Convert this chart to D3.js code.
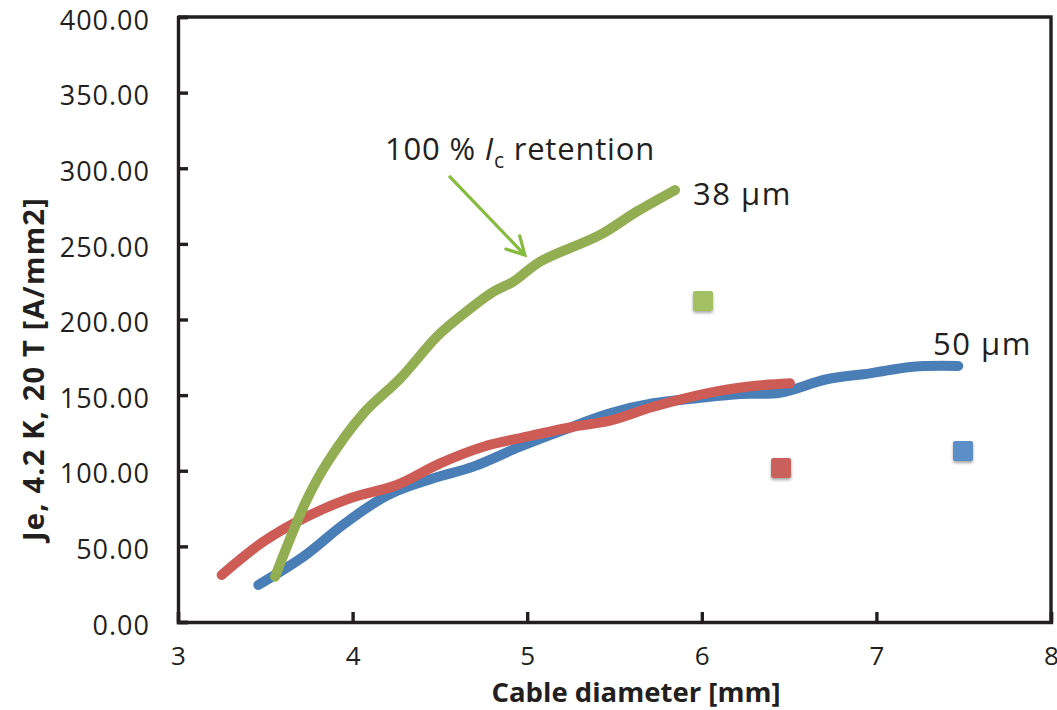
<!DOCTYPE html>
<html>
<head>
<meta charset="utf-8">
<script src="https://cdn.jsdelivr.net/npm/d3@7"></script>
<style>
  html, body { margin: 0; padding: 0; background: #ffffff; }
  svg { display: block; }
  text { font-family: "Open Sans", "Noto Sans", sans-serif; fill: #231f20; }
</style>
</head>
<body>
<svg id="chart" width="1057" height="710"></svg>
<script>
// Engineering current density vs. cable diameter
const xTicks = [3, 4, 5, 6, 7, 8];
const yTicks = [0, 50, 100, 150, 200, 250, 300, 350, 400];

// 38 µm filaments, 100 % Ic retention (green)
const green38X = [3.556, 3.737, 3.852, 4.061, 4.271, 4.482, 4.615, 4.806, 4.920, 5.073, 5.417, 5.627, 5.847];
const green38Y = [30.0, 80.7, 104.9, 137.8, 160.8, 188.6, 201.9, 218.4, 225.0, 238.2, 255.9, 271.3, 285.6];

// red series
const redX = [3.250, 3.489, 3.737, 3.985, 4.253, 4.501, 4.749, 4.997, 5.264, 5.474, 5.722, 6.028, 6.295, 6.505];
const redY = [31.1, 53.1, 69.6, 81.8, 90.6, 104.9, 115.9, 122.5, 129.1, 133.1, 142.3, 151.2, 156.0, 157.8];

// 50 µm filaments (blue)
const blue50X = [3.460, 3.718, 3.957, 4.203, 4.462, 4.691, 4.959, 5.207, 5.474, 5.722, 5.971, 6.219, 6.448, 6.715, 6.963, 7.211, 7.469];
const blue50Y = [24.5, 43.2, 65.3, 84.0, 95.0, 102.7, 115.9, 126.9, 138.0, 144.6, 147.9, 150.7, 151.6, 160.5, 164.4, 168.8, 169.3];

// single measured points
const pointX = [6.007, 6.454, 7.496];
const pointY = [212.2, 101.8, 113.1];
const pointColor = ["#a3c163", "#c9615b", "#5b8fc8"];

const svg = d3.select("#chart");
const plotLeft = 178, plotRight = 1051, plotTop = 17, plotBottom = 622;

const x = d3.scaleLinear().domain([3, 8]).range([plotLeft, plotRight]);
const y = d3.scaleLinear().domain([0, 400]).range([plotBottom, plotTop]);

const ink = "#231f20";

const defs = svg.append("defs");
const shadow = defs.append("filter").attr("id", "soft").attr("x", "-50%").attr("y", "-50%").attr("width", "200%").attr("height", "200%");
shadow.append("feDropShadow").attr("dx", 0).attr("dy", 2).attr("stdDeviation", 1.6)
  .attr("flood-color", "#000").attr("flood-opacity", 0.35);

// frame (top and right edges)
svg.append("path")
  .attr("d", `M${plotLeft},${plotTop}H${plotRight}V${plotBottom}`)
  .attr("fill", "none").attr("stroke", ink).attr("stroke-width", 3.4);

// y axis with inward ticks
const yAxis = d3.axisLeft(y).tickValues(yTicks).tickSize(-10).tickPadding(28)
  .tickFormat(d3.format(".2f"));
const gy = svg.append("g").attr("transform", `translate(${plotLeft},0)`).call(yAxis);
gy.select(".domain").attr("stroke", ink).attr("stroke-width", 3.4);
gy.selectAll(".tick line").attr("stroke", ink).attr("stroke-width", 3.4);
gy.selectAll(".tick text").attr("font-size", 27).attr("font-family", "Open Sans")
  .attr("letter-spacing", 1).attr("fill", ink).attr("dy", "0.45em");

// x axis with inward ticks
const xAxis = d3.axisBottom(x).tickValues(xTicks).tickSize(-10).tickPadding(40)
  .tickFormat(d3.format("d"));
const gx = svg.append("g").attr("transform", `translate(0,${plotBottom})`).call(xAxis);
gx.select(".domain").attr("stroke", ink).attr("stroke-width", 3.4);
gx.selectAll(".tick line").attr("stroke", ink).attr("stroke-width", 3.4);
gx.selectAll(".tick text").attr("font-size", 26).attr("font-family", "Open Sans").attr("fill", ink).attr("dy", "0.12em");

// axis titles
svg.append("text")
  .attr("x", 636).attr("y", 702)
  .attr("text-anchor", "middle").attr("font-size", 27.5).attr("font-weight", "bold")
  .text("Cable diameter [mm]");

svg.append("text")
  .attr("transform", "translate(44,369) rotate(-90)")
  .attr("text-anchor", "middle").attr("font-size", 29).attr("font-weight", "bold")
  .attr("letter-spacing", 1.2)
  .text("Je, 4.2 K, 20 T [A/mm2]");

// smoothed curves
const line = d3.line().x(d => x(d[0])).y(d => y(d[1])).curve(d3.curveCatmullRom.alpha(0.5));
const series = [
  { xs: blue50X, ys: blue50Y, color: "#4a7eb6" },
  { xs: redX, ys: redY, color: "#cd5c57" },
  { xs: green38X, ys: green38Y, color: "#93ae52" }
];
series.forEach(s => {
  svg.append("path")
    .datum(d3.zip(s.xs, s.ys))
    .attr("d", line)
    .attr("fill", "none")
    .attr("stroke", s.color)
    .attr("stroke-width", 10)
    .attr("stroke-linecap", "round")
    .attr("stroke-linejoin", "round");
});

// square markers
const sq = 20;
svg.append("g").selectAll("rect")
  .data(d3.zip(pointX, pointY, pointColor))
  .join("rect")
  .attr("x", d => x(d[0]) - sq / 2)
  .attr("y", d => y(d[1]) - sq / 2)
  .attr("width", sq).attr("height", sq)
  .attr("rx", 2)
  .attr("fill", d => d[2])
  .attr("filter", "url(#soft)");

// annotation: arrow pointing to the 38 µm curve
const arrowFrom = [4.552, 294.9], arrowTo = [4.987, 242.6];
const ax0 = x(arrowFrom[0]), ay0 = y(arrowFrom[1]), ax1 = x(arrowTo[0]), ay1 = y(arrowTo[1]);
const ang = Math.atan2(ay1 - ay0, ax1 - ax0);
const head = 20, spread = 0.5;
const arrowColor = "#86bb3d";
svg.append("line")
  .attr("x1", ax0).attr("y1", ay0).attr("x2", ax1).attr("y2", ay1)
  .attr("stroke", arrowColor).attr("stroke-width", 3.2);
svg.append("path")
  .attr("d", `M${ax1 - head * Math.cos(ang - spread)},${ay1 - head * Math.sin(ang - spread)}L${ax1},${ay1}L${ax1 - head * Math.cos(ang + spread)},${ay1 - head * Math.sin(ang + spread)}`)
  .attr("fill", "none").attr("stroke", arrowColor).attr("stroke-width", 3.2)
  .attr("stroke-linecap", "round").attr("stroke-linejoin", "miter");

const note = svg.append("text")
  .attr("x", x(4.186)).attr("y", y(305.5))
  .attr("font-size", 31).attr("letter-spacing", 0.8);
note.append("tspan").text("100 % ");
note.append("tspan").attr("font-style", "italic").text("I");
note.append("tspan").attr("font-size", 21).attr("dy", 8).text("c");
note.append("tspan").attr("dy", -8).text(" retention");

svg.append("text")
  .attr("x", x(5.95)).attr("y", y(275.7))
  .attr("font-size", 31).attr("letter-spacing", 1.5)
  .text("38 \u00b5m");

svg.append("text")
  .attr("x", x(7.324)).attr("y", y(176.5))
  .attr("font-size", 31).attr("letter-spacing", 1.5)
  .text("50 \u00b5m");
</script>
</body>
</html>
